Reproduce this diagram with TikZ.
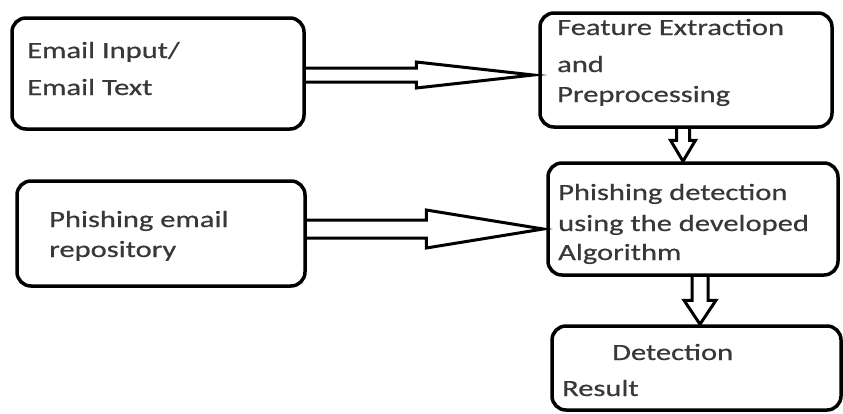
\documentclass[tikz,border=0pt]{standalone}
\usepackage{fontspec}
\usepackage{graphicx}
\setmainfont{Carlito}[FakeBold=0.5]
\usetikzlibrary{calc}

\newcommand{\wide}[1]{\scalebox{1.31}[1]{#1}}

\tikzset{
	box/.style={draw, rounded corners=14pt, line width=3.5pt},
	hollow/.style={draw, line width=3pt, line join=miter},
	linetext/.style={anchor=base west, inner sep=0pt, text=black!78,
		font=\fontsize{23.3}{28}\selectfont}
}

\begin{document}
\begin{tikzpicture}[x=1pt, y=-1pt]
	\useasboundingbox (0,0) rectangle (843,413);

	% boxes
	\node[box, minimum width=292pt, minimum height=111pt] (input) at (158,73.5) {};
	\node[box, minimum width=288pt, minimum height=105pt] (repo) at (161,233.5) {};
	\node[box, minimum width=292pt, minimum height=114pt] (feat) at (686,70) {};
	\node[box, minimum width=290pt, minimum height=112pt] (detect) at (693,219) {};
	\node[box, minimum width=289pt, minimum height=84pt] (result) at (696.5,368) {};

	% text, one line at a time
	\foreach \x/\y/\t [count=\i] in {27/58/{Email Input/}, 27/95/{Email Text},
			49/227/{Phishing email}, 49/257/repository,
			557/35/{Feature Extraction}, 557/72/and, 557/102/Preprocessing,
			558/200/{Phishing detection}, 558/231/{using the developed}, 558/260/Algorithm,
			612/360/Detection, 562/396/Result} {
		\node[linetext] (txt\i) at (\x,\y) {\wide{\t}};
	}

	% arrow ends
	\coordinate (h1s) at (input.east |- 0,75);
	\coordinate (h1e) at ($(feat.west |- 0,75)+(-5,0)$);
	\coordinate (h2s) at (repo.east |- 0,229);
	\coordinate (h2e) at ($(detect.west |- 0,229)+(-3,0)$);
	\coordinate (v1s) at (feat.south -| 683,0);
	\coordinate (v1e) at (detect.north -| 683,0);
	\coordinate (v2s) at (detect.south -| 700,0);
	\coordinate (v2e) at (result.north -| 700,0);

	% sideways block arrows
	\foreach \s/\e/\w/\h/\l in {h1s/h1e/7/13/117, h2s/h2e/9/19/117} {
		\draw[hollow] ($(\s)+(0,-\w)$) -- ($(\e)+(-\l,-\w)$) -- ($(\e)+(-\l,-\h)$)
			-- (\e) -- ($(\e)+(-\l,\h)$) -- ($(\e)+(-\l,\w)$) -- ($(\s)+(0,\w)$);
	}

	% downward block arrows
	\foreach \s/\e/\w/\h/\l in {v1s/v1e/6.5/12.5/21, v2s/v2e/8/16/24} {
		\draw[hollow] ($(\s)+(-\w,0)$) -- ($(\e)+(-\w,-\l)$) -- ($(\e)+(-\h,-\l)$)
			-- (\e) -- ($(\e)+(\h,-\l)$) -- ($(\e)+(\w,-\l)$) -- ($(\s)+(\w,0)$);
	}
\end{tikzpicture}
\end{document}
